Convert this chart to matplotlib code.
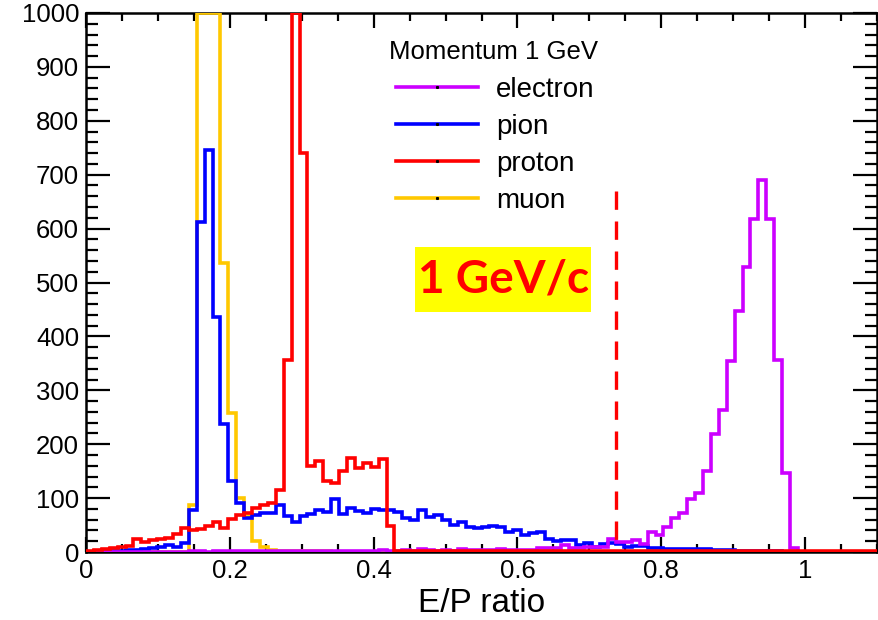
import numpy as np
import matplotlib
matplotlib.use("Agg")
import matplotlib.pyplot as plt
from matplotlib.lines import Line2D
from matplotlib.ticker import MultipleLocator

plt.rcParams['font.family'] = ['Liberation Sans', 'DejaVu Sans']

# 100 bins from 0 to 1.1 (width 0.011)
edges = np.linspace(0, 1.1, 101)

electron = ([0] * 13 +
            [1, 1, 0, 1, 1, 1, 1, 1, 2, 1, 1, 2] +
            [1, 2, 1, 1, 2, 2, 1, 2, 2, 1, 2, 2, 3, 2, 2, 3] +
            [2, 5, 3, 2, 3, 2, 5, 3, 3, 3, 4, 5, 3, 4, 3, 3] +
            [8, 8, 8, 13, 8, 7, 10, 10, 10, 24, 19, 19, 22, 14] +
            [38, 32, 47, 63, 72, 98, 109, 150, 218, 264, 354, 448, 528, 617,
             690, 618, 356, 146, 7, 0] +
            [0] * 9)

pion = ([0, 0, 1, 1, 2, 3, 4, 5, 7, 10, 13, 10, 16] +
        [77, 613, 745, 436, 237, 132, 90, 64] +
        [69, 73, 73, 87, 66, 55, 66, 70, 77, 74, 98, 70, 82, 76, 72, 80, 78,
         78, 74, 63, 60] +
        [77, 65, 69, 60, 50, 56, 47, 45, 47, 48, 46, 38, 41, 32, 36, 37, 25,
         21, 22, 22, 13, 16, 9, 14, 17] +
        [14, 9, 12, 11, 8, 7, 6, 6, 6, 6, 5, 5, 4, 3, 3, 2, 2, 2, 1, 1, 1] +
        [0] * 12)

proton = ([2, 4, 6, 8, 10, 12, 25, 18, 23, 24, 26, 33, 44, 41, 43, 48, 56,
           45, 61, 69, 73, 81, 87, 91, 115] +
          [356, 1400, 740, 160, 168, 132, 128, 150, 174, 155, 165, 158, 172,
           48] +
          [2] * 61)

muon = ([0] * 13 +
        [88, 1250, 1400, 1300, 536, 257, 100, 66, 20, 9, 4, 2] +
        [1] * 6 + [0] * 69)

cut_x = 0.737
cut_top = 670

fig = plt.figure(figsize=(8.79, 6.20), dpi=100)
ax = fig.add_axes([86 / 879, 1 - 552 / 620, 791 / 879, 539 / 620])

ymax = 1000
series = [
    (muon, '#FFC800', 'muon'),
    (pion, '#0000FF', 'pion'),
    (electron, '#CC00FF', 'electron'),
    (proton, '#FF0000', 'proton'),
]
for i, (vals, col, lab) in enumerate(series):
    v = np.minimum(np.array(vals, dtype=float), ymax)
    ax.stairs(v, edges, color=col, lw=2.6, zorder=3 + i)

# dashes start at the top of the cut line
ax.vlines(cut_x, cut_top, 0, color='#FF0000', lw=2.4,
          linestyles=(0, (5.5, 3.5)), zorder=8)

ax.set_xlim(0, 1.1)
ax.set_ylim(0, ymax)

ax.xaxis.set_major_locator(MultipleLocator(0.2))
ax.xaxis.set_minor_locator(MultipleLocator(0.05))
ax.yaxis.set_major_locator(MultipleLocator(100))
ax.yaxis.set_minor_locator(MultipleLocator(20))
ax.set_xticks([0, 0.2, 0.4, 0.6, 0.8, 1.0])
ax.set_xticklabels(['0', '0.2', '0.4', '0.6', '0.8', '1'])

ax.tick_params(which='both', direction='in', top=True, right=True,
               width=1.6, labelsize=18.5, pad=5)
ax.tick_params(axis='x', which='major', length=11)
ax.tick_params(axis='x', which='minor', length=6)
ax.tick_params(axis='y', which='major', length=17)
ax.tick_params(axis='y', which='minor', length=8.5)
for sp in ax.spines.values():
    sp.set_linewidth(1.8)

ax.set_xlabel('E/P ratio', fontsize=24, labelpad=3.5)

# legend title drawn on its own, entries slightly indented like ROOT
ax.text(0.383, 0.949, 'Momentum 1 GeV', transform=ax.transAxes,
        fontsize=18.5, ha='left', va='top')

handles = []
labels = []
for vals, col, lab in [series[2], series[1], series[3], series[0]]:
    handles.append(Line2D([], [], color=col, lw=2.6, marker='s',
                          markersize=1.2, markerfacecolor='k',
                          markeredgecolor='k'))
    labels.append(lab)
leg = ax.legend(handles, labels, loc='upper left',
                bbox_to_anchor=(0.392, 0.881), frameon=False, fontsize=20,
                handlelength=2.95, handletextpad=0.65,
                labelspacing=0.39, borderpad=0, borderaxespad=0,
                numpoints=1)

ax.text(0.58, 505, '1 GeV/c', color='#FF0000', fontsize=33,
        fontweight='bold', family=['Lato', 'DejaVu Sans'],
        ha='center', va='center', zorder=9,
        bbox=dict(boxstyle='square,pad=0.05', facecolor='#FFFF00',
                  edgecolor='none', mutation_aspect=5))

fig.savefig('out.png', dpi=100)
